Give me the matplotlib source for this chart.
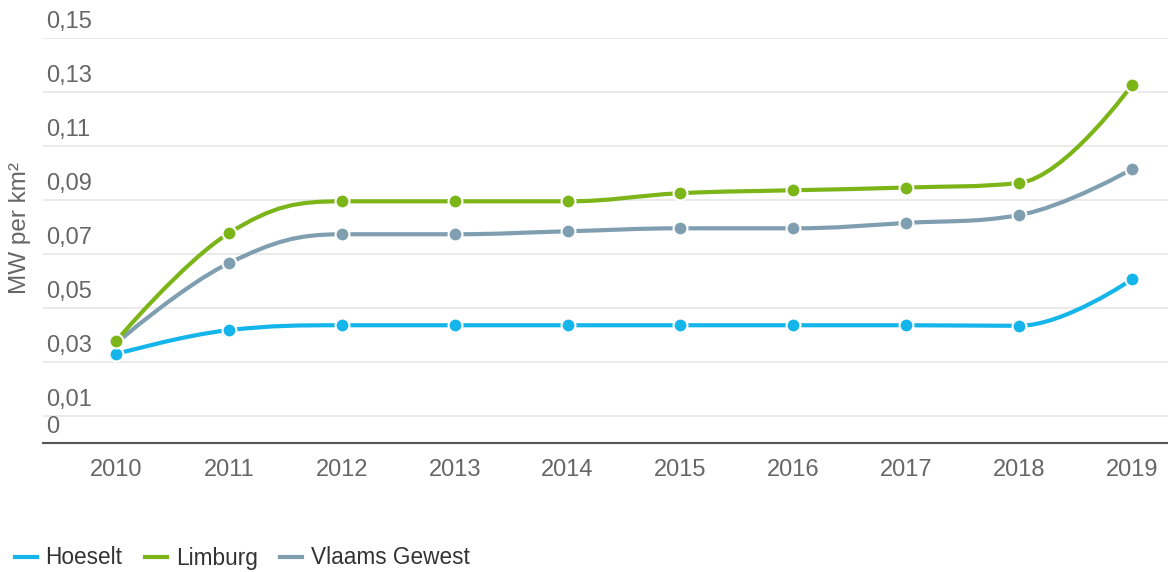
import numpy as np
import matplotlib
matplotlib.use("Agg")
import matplotlib.pyplot as plt
from matplotlib.path import Path
from matplotlib.patches import PathPatch
from matplotlib.lines import Line2D
import matplotlib.transforms as mtransforms

plt.rcParams['font.family'] = ['Liberation Sans', 'DejaVu Sans']

years = ['2010', '2011', '2012', '2013', '2014', '2015', '2016', '2017', '2018', '2019']
hoeselt = [0.0328, 0.0417, 0.0435, 0.0435, 0.0435, 0.0435, 0.0435, 0.0435, 0.0433, 0.0605]
limburg = [0.0376, 0.0776, 0.0894, 0.0894, 0.0894, 0.0924, 0.0935, 0.0945, 0.0962, 0.1324]
vlaams = [0.0368, 0.0665, 0.0772, 0.0772, 0.0783, 0.0794, 0.0794, 0.0814, 0.0843, 0.1013]

series = [
    ('Hoeselt', hoeselt, '#13b5ea'),
    ('Limburg', limburg, '#7cb518'),
    ('Vlaams Gewest', vlaams, '#7f9fb1'),
]
# drawing order: Limburg ends up on top
z_order = {'Vlaams Gewest': 3, 'Hoeselt': 4, 'Limburg': 5}

y_ticks = [0, 0.01, 0.03, 0.05, 0.07, 0.09, 0.11, 0.13, 0.15]


def spline_path(xs, ys, smoothing=1.5):
    # highcharts-style spline: bezier control points per point
    n = len(xs)
    left = [(xs[i], ys[i]) for i in range(n)]
    right = [(xs[i], ys[i]) for i in range(n)]
    for i in range(1, n - 1):
        px, py = xs[i], ys[i]
        lx, ly = xs[i - 1], ys[i - 1]
        nx, ny = xs[i + 1], ys[i + 1]
        lcx = (smoothing * px + lx) / (smoothing + 1)
        lcy = (smoothing * py + ly) / (smoothing + 1)
        rcx = (smoothing * px + nx) / (smoothing + 1)
        rcy = (smoothing * py + ny) / (smoothing + 1)
        if rcx != lcx:
            corr = (rcy - lcy) * (rcx - px) / (rcx - lcx) + py - rcy
            lcy += corr
            rcy += corr
        if lcy > ly and lcy > py:
            lcy = max(ly, py)
            rcy = 2 * py - lcy
        elif lcy < ly and lcy < py:
            lcy = min(ly, py)
            rcy = 2 * py - lcy
        if rcy > ny and rcy > py:
            rcy = max(ny, py)
            lcy = 2 * py - rcy
        elif rcy < ny and rcy < py:
            rcy = min(ny, py)
            lcy = 2 * py - rcy
        left[i] = (lcx, lcy)
        right[i] = (rcx, rcy)
    verts = [(xs[0], ys[0])]
    codes = [Path.MOVETO]
    for i in range(1, n):
        verts += [right[i - 1], left[i], (xs[i], ys[i])]
        codes += [Path.CURVE4] * 3
    return Path(verts, codes)


fig = plt.figure(figsize=(11.68, 5.72), dpi=100)
ax = fig.add_axes([43 / 1168, 1 - 442.7 / 572, 1 - 43 / 1168, (442.7 - 37.7) / 572])

x = np.arange(len(years))
for name, vals, color in series:
    z = z_order[name]
    ax.add_patch(PathPatch(spline_path(x, vals), facecolor='none', edgecolor=color,
                           lw=3, capstyle='round', joinstyle='round', zorder=z))
    ax.plot(x, vals, 'o', color=color, ms=10, mec='white', mew=1.5, zorder=z + 0.5)

ax.set_xlim(-0.647, 9.32)
ax.set_ylim(0, 0.15)
ax.set_xticks(x)
ax.set_xticklabels(years)
ax.tick_params(axis='x', length=0, pad=12, labelsize=17, labelcolor='#666666')
ax.set_yticks([])

for v in y_ticks[1:]:
    ax.axhline(v, color='#e6e6e6', lw=1.2, zorder=1)

for s in ['top', 'right', 'left']:
    ax.spines[s].set_visible(False)
ax.spines['bottom'].set_color('#555555')
ax.spines['bottom'].set_linewidth(1.5)

trans = mtransforms.blended_transform_factory(ax.transAxes, ax.transData)
for v in y_ticks:
    lab = '0' if v == 0 else ('%.2f' % v).replace('.', ',')
    ax.text(3 / 1125, v, lab, transform=trans + mtransforms.ScaledTranslation(0, 3.5 / 72, fig.dpi_scale_trans),
            ha='left', va='bottom', fontsize=17, color='#666666')

fig.text(20 / 1168, 1 - 228 / 572, 'MW per km²', rotation=90, ha='center', va='center',
         fontsize=17.5, color='#666666')

handles = [Line2D([], [], color=c, lw=3) for _, _, c in series]
fig.legend(handles, [n for n, _, _ in series], loc='center left',
           bbox_to_anchor=(15 / 1168, 1 - 558 / 572), ncol=3, frameon=False,
           handlelength=0.95, handletextpad=0.4, columnspacing=1.0,
           borderpad=0, borderaxespad=0, fontsize=16.3, labelcolor='#333333')

fig.savefig('out.png', dpi=100)
